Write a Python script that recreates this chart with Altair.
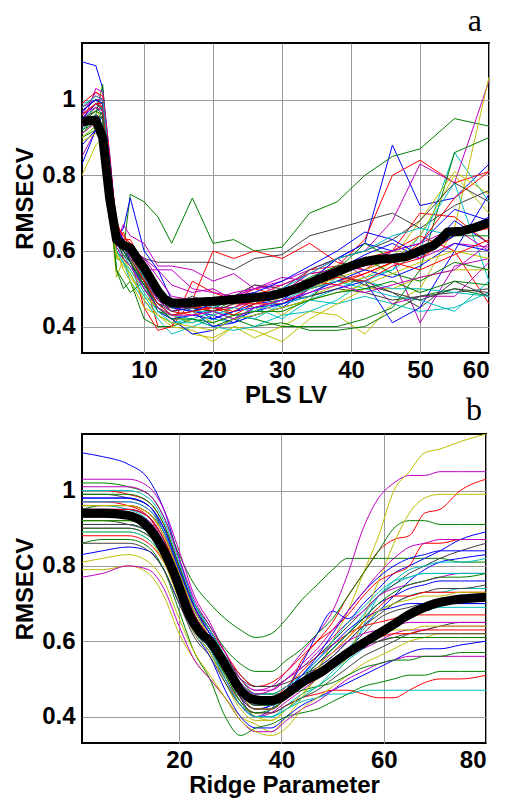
import altair as alt
import pandas as pd

# ---------------- Panel a : PLS LV ----------------
xa = [1, 3, 4, 5, 6, 7, 8, 10, 12, 14, 17, 20, 23, 26, 30, 34, 38, 42, 46, 50, 55, 60]
lines_a = [
    [1.10,1.09,1.03,0.85,0.66,0.62,0.60,0.55,0.47,0.44,0.45,0.42,0.44,0.46,0.47,0.52,0.58,0.62,0.88,0.72,0.74,0.83],
    [0.93,0.96,1.04,0.80,0.62,0.60,0.75,0.73,0.69,0.62,0.74,0.62,0.63,0.60,0.61,0.70,0.73,0.80,0.85,0.87,0.95,0.93],
    [0.97,1.00,0.98,0.78,0.62,0.65,0.60,0.53,0.40,0.40,0.52,0.49,0.47,0.50,0.48,0.55,0.56,0.63,0.80,0.84,0.78,0.81],
    [0.95,0.98,0.96,0.70,0.58,0.57,0.52,0.47,0.42,0.38,0.40,0.42,0.41,0.43,0.45,0.47,0.50,0.53,0.55,0.60,0.86,0.73],
    [0.96,1.02,1.00,0.85,0.65,0.62,0.60,0.58,0.55,0.55,0.50,0.49,0.48,0.50,0.52,0.55,0.58,0.60,0.68,0.83,0.78,1.05],
    [0.80,0.88,0.90,0.72,0.53,0.58,0.55,0.50,0.44,0.42,0.38,0.37,0.40,0.37,0.40,0.44,0.43,0.38,0.46,0.50,0.66,1.06],
    [0.92,0.95,0.93,0.80,0.63,0.62,0.60,0.58,0.57,0.57,0.57,0.57,0.55,0.58,0.59,0.64,0.66,0.68,0.70,0.66,0.72,0.76],
    [0.88,0.92,0.94,0.76,0.63,0.66,0.74,0.60,0.55,0.47,0.44,0.43,0.41,0.43,0.45,0.50,0.55,0.59,0.62,0.58,0.68,0.62],
    [0.90,0.92,0.91,0.72,0.55,0.50,0.52,0.42,0.40,0.40,0.42,0.40,0.42,0.40,0.41,0.39,0.39,0.40,0.44,0.48,0.50,0.48],
    [0.98,1.01,1.00,0.74,0.62,0.62,0.58,0.45,0.39,0.40,0.47,0.60,0.58,0.60,0.58,0.62,0.57,0.55,0.60,0.64,0.60,0.46],
    [0.99,1.00,0.97,0.82,0.64,0.61,0.58,0.50,0.46,0.45,0.44,0.44,0.42,0.45,0.42,0.47,0.46,0.48,0.46,0.44,0.45,0.49],
    [0.85,0.92,0.88,0.70,0.62,0.67,0.64,0.62,0.56,0.56,0.55,0.52,0.54,0.50,0.53,0.52,0.56,0.55,0.58,0.41,0.56,0.58],
    [0.94,0.97,0.95,0.78,0.60,0.55,0.52,0.45,0.43,0.40,0.39,0.36,0.40,0.39,0.36,0.42,0.46,0.50,0.50,0.53,0.55,0.55],
    [0.95,0.97,0.98,0.76,0.60,0.58,0.56,0.52,0.48,0.46,0.48,0.46,0.48,0.46,0.50,0.50,0.52,0.52,0.49,0.45,0.52,0.48],
    [0.83,0.92,0.96,0.79,0.64,0.60,0.58,0.52,0.44,0.42,0.38,0.39,0.42,0.44,0.46,0.48,0.50,0.52,0.41,0.45,0.60,0.75],
    [0.91,0.95,0.93,0.77,0.55,0.52,0.49,0.52,0.44,0.43,0.44,0.46,0.43,0.42,0.40,0.40,0.40,0.42,0.45,0.55,0.86,0.90],
    [0.93,0.96,0.95,0.80,0.66,0.62,0.61,0.55,0.50,0.47,0.46,0.44,0.45,0.48,0.51,0.54,0.55,0.58,0.60,0.70,0.69,0.62],
    [0.90,0.93,0.92,0.76,0.60,0.57,0.55,0.49,0.44,0.41,0.42,0.40,0.39,0.40,0.43,0.44,0.47,0.52,0.55,0.64,0.78,0.52],
    [0.93,1.03,1.02,0.86,0.66,0.63,0.58,0.55,0.55,0.51,0.49,0.50,0.47,0.51,0.49,0.54,0.58,0.53,0.46,0.48,0.48,0.57],
    [0.89,0.91,0.92,0.74,0.58,0.58,0.53,0.48,0.45,0.43,0.41,0.43,0.45,0.47,0.43,0.48,0.51,0.53,0.57,0.64,0.80,0.70],
    [0.96,0.99,0.97,0.82,0.65,0.60,0.57,0.52,0.47,0.45,0.45,0.45,0.47,0.45,0.47,0.48,0.50,0.49,0.47,0.48,0.49,0.50],
    [0.97,1.00,0.99,0.82,0.64,0.62,0.57,0.51,0.46,0.43,0.44,0.40,0.41,0.45,0.47,0.52,0.58,0.62,0.60,0.62,0.71,0.68],
    [0.92,0.94,0.97,0.82,0.64,0.58,0.61,0.52,0.49,0.45,0.45,0.44,0.47,0.49,0.45,0.47,0.55,0.62,0.58,0.61,0.64,0.64],
    [0.95,0.99,0.99,0.83,0.68,0.63,0.63,0.56,0.48,0.44,0.43,0.44,0.46,0.46,0.46,0.50,0.52,0.54,0.57,0.62,0.74,0.81],
    [0.94,0.96,0.95,0.79,0.61,0.59,0.56,0.50,0.46,0.43,0.42,0.44,0.43,0.42,0.46,0.48,0.53,0.52,0.50,0.50,0.49,0.48],
    [0.98,1.00,1.00,0.84,0.67,0.63,0.61,0.58,0.53,0.48,0.47,0.45,0.45,0.47,0.50,0.52,0.55,0.56,0.59,0.58,0.62,0.61],
    [0.91,0.94,0.93,0.76,0.62,0.60,0.58,0.50,0.45,0.43,0.44,0.41,0.43,0.44,0.48,0.50,0.53,0.55,0.58,0.68,0.81,0.75],
    [0.94,0.98,0.96,0.78,0.62,0.60,0.58,0.52,0.46,0.45,0.45,0.47,0.48,0.51,0.50,0.55,0.58,0.60,0.63,0.68,0.78,0.73],
    [0.95,0.99,0.98,0.80,0.63,0.60,0.57,0.50,0.45,0.42,0.43,0.42,0.44,0.45,0.46,0.49,0.52,0.55,0.53,0.56,0.62,0.60],
    [0.97,1.00,0.99,0.83,0.66,0.62,0.59,0.53,0.47,0.45,0.46,0.47,0.46,0.48,0.49,0.53,0.56,0.58,0.54,0.52,0.57,0.55],
    [0.99,1.02,1.01,0.85,0.67,0.64,0.62,0.57,0.49,0.46,0.45,0.45,0.43,0.46,0.48,0.51,0.53,0.52,0.56,0.58,0.64,0.66],
    [0.92,0.95,0.95,0.77,0.60,0.57,0.54,0.48,0.43,0.41,0.41,0.43,0.45,0.44,0.47,0.50,0.52,0.50,0.48,0.47,0.44,0.52],
    [0.96,0.98,0.97,0.81,0.64,0.61,0.59,0.53,0.47,0.44,0.46,0.47,0.49,0.50,0.51,0.54,0.55,0.57,0.60,0.62,0.66,0.60],
    [0.90,0.93,0.92,0.75,0.59,0.56,0.54,0.47,0.43,0.41,0.40,0.39,0.42,0.43,0.45,0.47,0.49,0.51,0.54,0.57,0.60,0.58],
    [0.93,0.96,0.95,0.79,0.62,0.59,0.57,0.51,0.46,0.44,0.45,0.44,0.46,0.47,0.49,0.52,0.54,0.51,0.49,0.47,0.50,0.49],
    [0.97,1.00,0.99,0.84,0.66,0.63,0.60,0.54,0.48,0.45,0.44,0.46,0.48,0.49,0.52,0.56,0.60,0.65,0.63,0.59,0.64,0.69],
    [0.94,0.97,0.96,0.80,0.63,0.60,0.57,0.51,0.45,0.42,0.42,0.41,0.43,0.44,0.44,0.47,0.49,0.50,0.52,0.49,0.52,0.51],
    [0.96,0.99,0.98,0.81,0.64,0.61,0.59,0.52,0.46,0.43,0.44,0.45,0.44,0.47,0.50,0.52,0.51,0.54,0.57,0.55,0.59,0.63],
    [0.98,1.01,1.00,0.83,0.65,0.62,0.59,0.53,0.48,0.46,0.47,0.45,0.47,0.48,0.50,0.54,0.58,0.60,0.64,0.66,0.64,0.67],
    [0.91,0.94,0.93,0.78,0.61,0.58,0.56,0.50,0.45,0.43,0.43,0.44,0.42,0.45,0.47,0.49,0.51,0.49,0.51,0.53,0.55,0.62],
]
mean_xa = [1, 2, 3, 4, 5, 6, 7, 8, 9, 10, 11, 12, 13, 14, 16, 18, 20, 22, 25, 28, 30, 32, 34, 36, 38, 40, 42, 44, 46, 48, 50, 52, 53, 54, 56, 58, 60]
mean_ya = [0.94, 0.945, 0.945, 0.90, 0.74, 0.63, 0.615, 0.608, 0.58, 0.555, 0.525, 0.494, 0.472, 0.463, 0.462, 0.465, 0.467, 0.47, 0.475, 0.48, 0.488, 0.50, 0.515, 0.53, 0.545, 0.56, 0.572, 0.578, 0.58, 0.585, 0.60, 0.615, 0.63, 0.65, 0.652, 0.662, 0.675]

# ---------------- Panel b : Ridge parameter ----------------
xb = [1, 5, 10, 14, 17, 20, 23, 26, 29, 32, 35, 38, 41, 44, 47, 50, 53, 56, 59, 62, 65, 68, 71, 75, 80]
lines_b = [
    [1.10,1.09,1.07,1.03,0.95,0.82,0.70,0.63,0.55,0.46,0.42,0.43,0.47,0.50,0.53,0.56,0.60,0.64,0.68,0.72,0.76,0.79,0.81,0.82,0.83],
    [1.02,1.02,1.01,0.99,0.93,0.83,0.75,0.70,0.66,0.63,0.61,0.62,0.66,0.71,0.75,0.79,0.82,0.82,0.82,0.82,0.82,0.82,0.82,0.81,0.81],
    [0.97,0.97,0.96,0.93,0.86,0.76,0.66,0.60,0.52,0.46,0.44,0.44,0.47,0.55,0.60,0.65,0.72,0.78,0.84,0.87,0.88,0.94,0.95,1.00,1.03],
    [0.96,0.96,0.95,0.92,0.86,0.75,0.66,0.60,0.52,0.44,0.40,0.40,0.43,0.46,0.48,0.52,0.56,0.64,0.72,0.75,0.77,0.78,0.78,0.78,0.78],
    [1.03,1.03,1.03,1.01,0.95,0.84,0.72,0.65,0.57,0.50,0.47,0.48,0.52,0.57,0.62,0.68,0.78,0.90,0.98,1.02,1.04,1.04,1.05,1.05,1.05],
    [0.79,0.79,0.80,0.78,0.72,0.62,0.55,0.50,0.45,0.40,0.38,0.36,0.40,0.45,0.52,0.60,0.68,0.78,0.88,1.00,1.05,1.10,1.11,1.13,1.15],
    [0.92,0.92,0.91,0.89,0.84,0.74,0.64,0.58,0.52,0.48,0.46,0.46,0.48,0.50,0.52,0.55,0.58,0.62,0.66,0.68,0.69,0.70,0.70,0.70,0.70],
    [0.83,0.84,0.85,0.84,0.79,0.70,0.62,0.56,0.47,0.40,0.37,0.37,0.40,0.43,0.45,0.47,0.49,0.51,0.53,0.55,0.57,0.58,0.58,0.59,0.60],
    [0.86,0.87,0.87,0.85,0.79,0.68,0.57,0.50,0.40,0.35,0.37,0.38,0.40,0.41,0.42,0.44,0.46,0.48,0.49,0.50,0.51,0.51,0.52,0.52,0.52],
    [0.88,0.88,0.88,0.86,0.81,0.72,0.63,0.57,0.50,0.44,0.41,0.41,0.43,0.45,0.46,0.47,0.47,0.46,0.45,0.45,0.47,0.49,0.50,0.50,0.51],
    [0.91,0.91,0.91,0.89,0.83,0.73,0.63,0.57,0.50,0.43,0.40,0.40,0.42,0.44,0.45,0.46,0.46,0.47,0.47,0.47,0.47,0.47,0.47,0.47,0.47],
    [0.77,0.78,0.80,0.79,0.74,0.64,0.55,0.50,0.45,0.39,0.36,0.36,0.39,0.42,0.44,0.47,0.50,0.52,0.54,0.55,0.56,0.56,0.56,0.56,0.56],
    [0.81,0.82,0.83,0.81,0.76,0.66,0.57,0.51,0.45,0.39,0.36,0.35,0.37,0.42,0.45,0.48,0.51,0.54,0.56,0.58,0.60,0.61,0.62,0.62,0.62],
    [0.99,0.99,0.98,0.96,0.89,0.78,0.68,0.62,0.56,0.51,0.48,0.48,0.50,0.53,0.56,0.60,0.64,0.68,0.72,0.75,0.78,0.80,0.82,0.84,0.86],
    [0.98,0.98,0.98,0.96,0.90,0.80,0.69,0.62,0.54,0.45,0.40,0.42,0.47,0.54,0.62,0.68,0.66,0.70,0.74,0.78,0.80,0.82,0.84,0.87,0.89],
    [0.95,0.96,0.96,0.94,0.89,0.79,0.70,0.64,0.58,0.54,0.52,0.52,0.55,0.58,0.62,0.66,0.72,0.78,0.84,0.90,0.92,0.92,0.91,0.91,0.91],
    [1.00,1.00,0.99,0.97,0.91,0.80,0.69,0.63,0.57,0.51,0.48,0.49,0.52,0.56,0.60,0.63,0.67,0.72,0.76,0.78,0.80,0.86,0.86,0.87,0.87],
    [0.94,0.94,0.94,0.92,0.86,0.76,0.66,0.60,0.53,0.46,0.43,0.43,0.45,0.48,0.51,0.54,0.58,0.63,0.68,0.70,0.72,0.73,0.73,0.74,0.74],
    [0.90,0.90,0.90,0.88,0.82,0.72,0.63,0.58,0.50,0.43,0.40,0.41,0.44,0.47,0.50,0.53,0.56,0.58,0.60,0.62,0.63,0.63,0.64,0.64,0.64],
    [0.89,0.89,0.89,0.87,0.81,0.71,0.62,0.57,0.49,0.42,0.39,0.39,0.42,0.45,0.48,0.51,0.56,0.66,0.76,0.86,0.94,0.98,0.99,0.99,0.99],
    [0.86,0.86,0.86,0.84,0.79,0.70,0.61,0.56,0.49,0.43,0.41,0.41,0.43,0.45,0.47,0.50,0.53,0.56,0.58,0.60,0.62,0.63,0.64,0.65,0.65],
    [0.93,0.93,0.93,0.91,0.86,0.76,0.66,0.60,0.52,0.45,0.42,0.43,0.46,0.50,0.54,0.58,0.62,0.66,0.70,0.72,0.74,0.75,0.76,0.76,0.76],
    [0.99,0.99,0.99,0.97,0.91,0.80,0.69,0.63,0.56,0.50,0.46,0.46,0.46,0.47,0.48,0.49,0.51,0.53,0.54,0.55,0.55,0.56,0.56,0.57,0.57],
    [0.96,0.96,0.96,0.94,0.88,0.78,0.68,0.62,0.55,0.48,0.45,0.45,0.48,0.52,0.56,0.59,0.62,0.64,0.65,0.66,0.67,0.67,0.67,0.67,0.67],
    [1.00,1.00,1.00,0.98,0.92,0.81,0.70,0.63,0.56,0.49,0.46,0.46,0.48,0.51,0.54,0.58,0.62,0.67,0.72,0.76,0.79,0.80,0.81,0.81,0.82],
    [0.97,0.97,0.97,0.95,0.89,0.79,0.69,0.62,0.55,0.49,0.46,0.47,0.50,0.53,0.57,0.61,0.65,0.68,0.72,0.74,0.75,0.76,0.77,0.78,0.78],
    [0.92,0.92,0.92,0.90,0.85,0.75,0.65,0.59,0.51,0.44,0.40,0.39,0.42,0.46,0.50,0.54,0.58,0.60,0.62,0.63,0.63,0.64,0.64,0.64,0.64],
    [0.95,0.95,0.95,0.93,0.87,0.77,0.67,0.61,0.55,0.50,0.48,0.48,0.49,0.51,0.53,0.56,0.60,0.64,0.67,0.70,0.72,0.73,0.74,0.74,0.75],
    [0.95,0.95,0.95,0.93,0.87,0.77,0.67,0.61,0.53,0.46,0.43,0.44,0.47,0.51,0.55,0.59,0.63,0.66,0.68,0.69,0.70,0.70,0.70,0.70,0.70],
    [0.90,0.90,0.90,0.88,0.83,0.73,0.64,0.58,0.51,0.44,0.41,0.42,0.45,0.48,0.51,0.54,0.57,0.59,0.60,0.61,0.61,0.61,0.61,0.61,0.61],
    [0.93,0.93,0.93,0.91,0.85,0.75,0.66,0.60,0.52,0.45,0.42,0.42,0.45,0.49,0.53,0.57,0.61,0.65,0.69,0.72,0.72,0.73,0.73,0.73,0.73],
    [0.97,0.97,0.97,0.95,0.89,0.79,0.68,0.62,0.54,0.47,0.44,0.44,0.47,0.51,0.55,0.60,0.65,0.69,0.73,0.76,0.77,0.78,0.78,0.78,0.78],
    [0.94,0.94,0.94,0.92,0.86,0.76,0.66,0.60,0.53,0.46,0.43,0.43,0.46,0.50,0.54,0.57,0.60,0.62,0.63,0.64,0.65,0.65,0.65,0.65,0.65],
    [0.96,0.96,0.96,0.94,0.88,0.78,0.68,0.61,0.53,0.46,0.42,0.42,0.45,0.49,0.53,0.57,0.61,0.65,0.68,0.70,0.71,0.72,0.72,0.73,0.73],
    [0.91,0.91,0.91,0.89,0.83,0.74,0.65,0.59,0.52,0.45,0.42,0.42,0.45,0.48,0.51,0.54,0.57,0.59,0.60,0.61,0.62,0.62,0.62,0.62,0.62],
    [0.98,0.98,0.98,0.96,0.90,0.79,0.69,0.62,0.55,0.48,0.44,0.44,0.47,0.51,0.56,0.62,0.68,0.73,0.77,0.80,0.82,0.83,0.84,0.84,0.84],
    [0.92,0.92,0.92,0.90,0.84,0.74,0.65,0.59,0.52,0.46,0.43,0.43,0.46,0.50,0.54,0.58,0.62,0.66,0.70,0.73,0.75,0.76,0.77,0.77,0.78],
    [0.95,0.95,0.95,0.93,0.87,0.77,0.67,0.61,0.54,0.47,0.44,0.44,0.46,0.49,0.52,0.55,0.58,0.60,0.61,0.62,0.62,0.63,0.63,0.63,0.63],
    [0.89,0.89,0.89,0.87,0.82,0.72,0.63,0.58,0.50,0.43,0.40,0.40,0.42,0.45,0.48,0.51,0.55,0.58,0.62,0.65,0.67,0.68,0.69,0.69,0.69],
    [1.01,1.01,1.01,0.99,0.93,0.82,0.71,0.64,0.57,0.50,0.47,0.47,0.50,0.54,0.58,0.63,0.68,0.73,0.78,0.82,0.85,0.86,0.87,0.87,0.87],
]
mean_xb = [1, 5, 10, 13, 15, 17, 19, 20, 22, 24, 26, 28, 30, 32, 34, 36, 38, 40, 42, 44, 46, 48, 50, 52, 54, 56, 58, 60, 62, 64, 66, 68, 70, 72, 75, 80]
mean_yb = [0.94, 0.94, 0.934, 0.915, 0.885, 0.84, 0.78, 0.743, 0.67, 0.625, 0.60, 0.56, 0.514, 0.47, 0.448, 0.443, 0.443, 0.451, 0.47, 0.49, 0.505, 0.52, 0.54, 0.56, 0.578, 0.595, 0.612, 0.628, 0.645, 0.663, 0.678, 0.69, 0.70, 0.706, 0.712, 0.717]

matlab_colors = ["#0000FF", "#008000", "#FF0000", "#00BFBF", "#BF00BF", "#BFBF00", "#404040"]

y_ticks = [0.4, 0.6, 0.8, 1.0]
xa_ticks = [10, 20, 30, 40, 50, 60]
xb_ticks = [20, 40, 60, 80]


def long_df(xs, lines):
    rows = []
    for i, ys in enumerate(lines):
        for x, y in zip(xs, ys):
            rows.append({"series": f"s{i:02d}", "x": x, "y": y})
    return pd.DataFrame(rows)


def panel(xs, lines, mx, my, xdom, xticks, xtitle, letter, w, h, interp, tdx, toff):
    df = long_df(xs, lines)
    names = [f"s{i:02d}" for i in range(len(lines))]
    cols = [matlab_colors[i % len(matlab_colors)] for i in range(len(lines))]
    xenc = alt.X("x:Q", scale=alt.Scale(domain=xdom, nice=False, zero=False),
                 axis=alt.Axis(values=xticks, title=xtitle))
    yenc = alt.Y("y:Q", scale=alt.Scale(domain=[0.33, 1.15], nice=False, zero=False),
                 axis=alt.Axis(values=y_ticks, title="RMSECV",
                               labelExpr="datum.value == 1 ? '1' : format(datum.value, '.1f')"))
    ln = alt.Chart(df).mark_line(strokeWidth=1, clip=True, interpolate=interp).encode(
        x=xenc, y=yenc,
        color=alt.Color("series:N", scale=alt.Scale(domain=names, range=cols), legend=None),
    )
    mdf = pd.DataFrame({"x": mx, "y": my})
    mean = alt.Chart(mdf).mark_line(color="black", strokeWidth=9, clip=True,
                                    interpolate=interp, strokeJoin="round").encode(x=xenc, y=yenc)
    return alt.layer(ln, mean).properties(
        width=w, height=h,
        title=alt.TitleParams(letter, anchor="end", font="Liberation Serif", fontSize=32,
                              fontWeight="normal", color="black", offset=toff, dx=tdx),
    )


pa = panel(xa, lines_a, mean_xa, mean_ya, [1, 60], xa_ticks, "PLS LV", "a", 407, 310, "linear", -7, 5)
pb = panel(xb, lines_b, mean_xb, mean_yb, [1, 80], xb_ticks, "Ridge Parameter", "b", 404, 309, "monotone", -4, 7)

chart = alt.vconcat(pa, pb, spacing=81, bounds="flush").properties(
    padding={"left": 12, "top": 4, "right": 5, "bottom": 5},
    background="white",
).configure_view(
    stroke="black", strokeWidth=2,
).configure_axis(
    grid=True, gridColor="#9a9a9a", gridWidth=1, domain=False, ticks=False,
    labelFont="Liberation Sans", labelFontSize=24, labelFontWeight="bold", labelColor="black",
    titleFont="Liberation Sans", titleFontSize=24, titleFontWeight="bold", titleColor="black",
).configure_axisX(labelPadding=5, titlePadding=1).configure_axisY(labelPadding=7, titlePadding=4)

chart.save("out.html", embed_options={"renderer": "svg", "actions": False})
